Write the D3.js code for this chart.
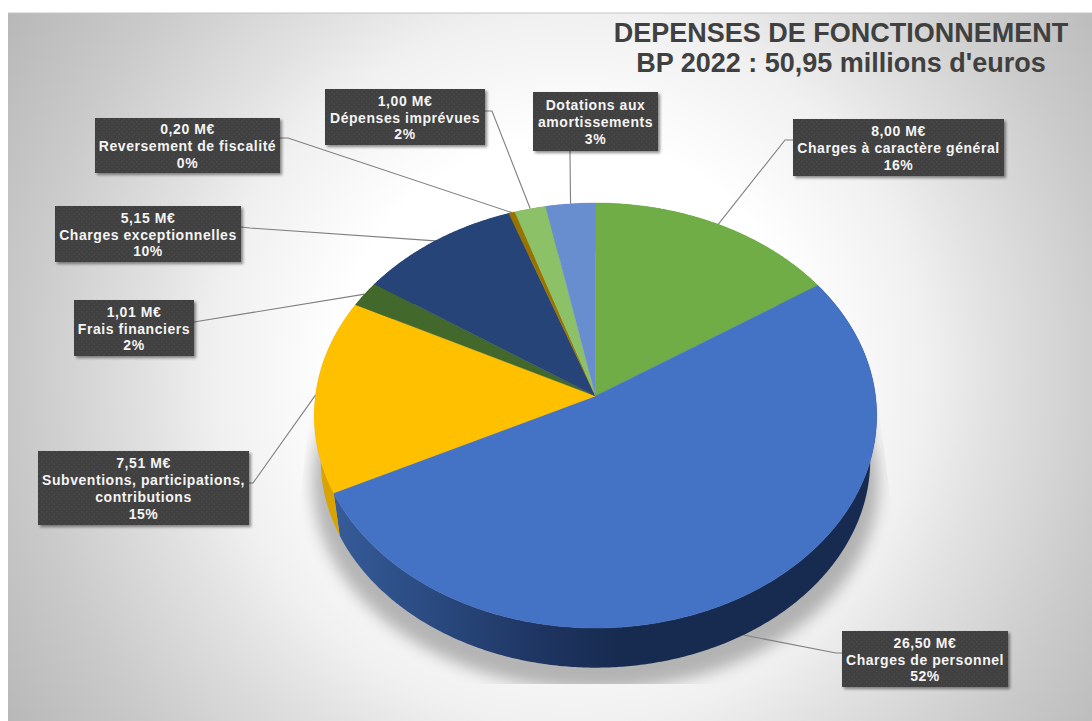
<!DOCTYPE html>
<html lang="fr">
<head>
<meta charset="utf-8">
<script src="https://cdn.jsdelivr.net/npm/d3@7/dist/d3.min.js"></script>
<style>
html,body{margin:0;padding:0;background:#fff;overflow:hidden}
svg{display:block}
text{font-family:"Liberation Sans",Arial,sans-serif;font-weight:bold}
</style>
</head>
<body>
<svg id="chart" width="1092" height="721"></svg>
<script>
// ---- data ----
const categories = ["Charges à caractère général","Charges de personnel","Subventions, participations,|contributions","Frais financiers","Charges exceptionnelles","Reversement de fiscalité","Dépenses imprévues","Dotations aux|amortissements"];
const amounts = [8.00,26.50,7.51,1.01,5.15,0.20,1.00,1.58];
const showAmount = [true,true,true,true,true,true,true,false];
const sliceColors = ["#70AD47","#4472C4","#FFC000","#43682B","#264478","#997300","#8CC168","#698ED0"];
const titleLines = ["DEPENSES DE FONCTIONNEMENT","BP 2022 : 50,95 millions d'euros"];

// ---- layout of the callouts: [x0,y0,x1,y1], leader start, elbow ----
const boxes = [[793,119,1004,176],[842,631,1008,687],[38,451,249,525],[74,300,194,356],[55,206,241,262],[95,118,280,173],[325,89,485,145],[533,92,658,151]];
const leaderStart = [[793,140],[842,653],[249,483],[194,322],[241,227],[280,138],[485,111],[570,151]];
const leaderElbow = [[785,140],[836,653],[253,483],[200,321],[250,228],[288,138],[492,111],[570,155]];

// ---- projection of the tilted disc ----
const cx=595.5, cy=396, kP=0.0918, ax=280, ay=210.7, depthScale=0.977, depth=45;
function topPt(a){
  const x=Math.sin(a), y=-Math.cos(a), w=1-kP*y;
  return [cx+ax*x/w, cy+ay*y/w];
}
function lowPt(a){
  const p=topPt(a);
  return [cx+depthScale*(p[0]-cx), cy+depthScale*(p[1]-cy)+depth];
}
const arcs = d3.pie().sort(null).value(d=>d)(amounts);
const total = d3.sum(amounts);
const step = Math.PI/180/2;
const sample=(a0,a1)=>{const n=Math.max(2,Math.ceil((a1-a0)/step));return d3.range(n+1).map(i=>a0+(a1-a0)*i/n);};
const pathLine=d3.line().curve(d3.curveLinear);

const svg=d3.select("#chart");
const defs=svg.append("defs");

const bg=defs.append("radialGradient").attr("id","bg").attr("gradientUnits","userSpaceOnUse")
  .attr("cx",570).attr("cy",370).attr("r",700);
[[0,255],[.33,255],[.51,240],[.6,226],[.78,202],[.93,186],[1,178]].forEach(s=>bg.append("stop").attr("offset",s[0]).attr("stop-color",d3.rgb(s[1],s[1],s[1]).formatHex()));

const sideGrad=defs.append("linearGradient").attr("id","sideBlue").attr("gradientUnits","userSpaceOnUse")
  .attr("x1",330).attr("x2",620).attr("y1",0).attr("y2",0);
[[0,"#365c9a"],[.35,"#2a4a80"],[.7,"#1f3663"],[1,"#172b50"]].forEach(s=>sideGrad.append("stop").attr("offset",s[0]).attr("stop-color",s[1]));

const blur=defs.append("filter").attr("id","blur").attr("x","-20%").attr("y","-20%").attr("width","140%").attr("height","140%");
blur.append("feGaussianBlur").attr("stdDeviation",7.5);

const boxShadow=defs.append("filter").attr("id","boxShadow").attr("x","-10%").attr("y","-10%").attr("width","120%").attr("height","130%");
boxShadow.append("feDropShadow").attr("dx",2).attr("dy",2).attr("stdDeviation",1.5).attr("flood-color","#000").attr("flood-opacity",.45);

const pat=defs.append("pattern").attr("id","dots").attr("patternUnits","userSpaceOnUse").attr("width",5).attr("height",5);
pat.append("rect").attr("width",5).attr("height",5).attr("fill","#404040");
pat.append("rect").attr("x",1).attr("y",1).attr("width",1.4).attr("height",1.4).attr("fill","#4a4a4a");
pat.append("rect").attr("x",3.5).attr("y",3.5).attr("width",1.4).attr("height",1.4).attr("fill","#4a4a4a");

defs.append("clipPath").attr("id","shadowClip").append("path")
  .attr("d",pathLine([[876,385],[893,520],[893,684],[297,684],[297,530],[311,400]])+"Z");

// background
svg.append("rect").attr("x",8).attr("y",13).attr("width",1084).attr("height",708).attr("fill","url(#bg)");
svg.append("line").attr("x1",8).attr("x2",1092).attr("y1",13).attr("y2",13).attr("stroke","#c4c4c4");

// pie shadow
svg.append("g").attr("clip-path","url(#shadowClip)").append("path")
  .attr("d",pathLine(sample(0,2*Math.PI).map(a=>{const p=lowPt(a);return [cx+1.03*(p[0]-cx),p[1]+22];}))+"Z")
  .attr("fill","#000").attr("fill-opacity",.27).attr("filter","url(#blur)");

// leaders
const leaders=svg.append("g").attr("fill","none").attr("stroke","#7f7f7f").attr("stroke-width",1.1);
arcs.forEach((d,i)=>{
  const m=(d.startAngle+d.endAngle)/2;
  const end=i===1?lowPt(m):topPt(m);
  leaders.append("path").attr("d",pathLine([leaderStart[i],leaderElbow[i],end]));
});

// side walls
arcs.forEach((d,i)=>{
  const pts=sample(d.startAngle,d.endAngle);
  const poly=pts.map(topPt).concat(pts.slice().reverse().map(lowPt));
  svg.append("path").attr("d",pathLine(poly)+"Z")
    .attr("fill",i===1?"url(#sideBlue)":d3.color(sliceColors[i]).darker(.45).formatHex());
});

// top faces
arcs.forEach((d,i)=>{
  const poly=[[cx,cy]].concat(sample(d.startAngle,d.endAngle).map(topPt));
  svg.append("path").attr("d",pathLine(poly)+"Z")
    .attr("fill",sliceColors[i]).attr("stroke",sliceColors[i]).attr("stroke-width",.4);
});

// callouts
const frNum=d3.format(".2f");
arcs.forEach((d,i)=>{
  const b=boxes[i];
  const g=svg.append("g");
  g.append("rect").attr("x",b[0]).attr("y",b[1]).attr("width",b[2]-b[0]).attr("height",b[3]-b[1])
    .attr("fill","url(#dots)").attr("filter","url(#boxShadow)");
  const lines=[];
  if(showAmount[i]) lines.push(frNum(amounts[i]).replace(".",",")+" M€");
  categories[i].split("|").forEach(s=>lines.push(s));
  lines.push(Math.round(amounts[i]/total*100)+"%");
  const lh=16.8, mid=(b[0]+b[2])/2, yc=(b[1]+b[3])/2;
  lines.forEach((t,j)=>{
    g.append("text").attr("x",mid).attr("y",yc+(j-(lines.length-1)/2)*lh+5.6)
      .attr("text-anchor","middle").attr("font-size",14).attr("fill","#f4f4f4")
      .attr("letter-spacing",.55).text(t);
  });
});

// title
titleLines.forEach((t,i)=>{
  svg.append("text").attr("x",841).attr("y",41.5+i*30.5).attr("text-anchor","middle")
    .attr("font-size",27).attr("fill","#404040").text(t);
});
</script>
</body>
</html>
